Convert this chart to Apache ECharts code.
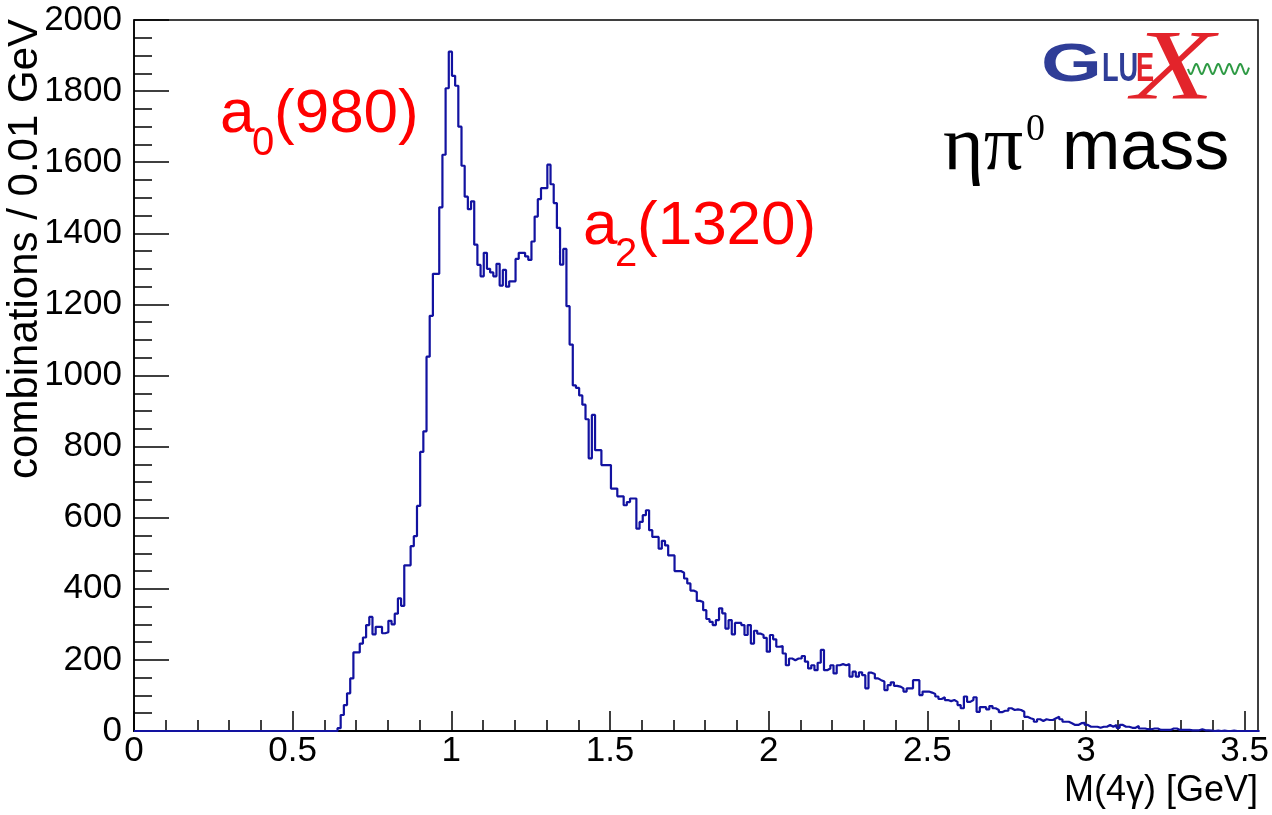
<!DOCTYPE html>
<html><head><meta charset="utf-8">
<script src="https://cdn.jsdelivr.net/npm/echarts@6/dist/echarts.min.js"></script>
<style>html,body{margin:0;padding:0;background:#fff}#c{width:1272px;height:815px}</style>
</head><body><div id="c"></div>
<script>
// ---- data: counts per 0.01 GeV bin, M(4gamma) ----
const binWidth = 0.01;
const xMax = 3.535;
const counts_000_050 = [0,0,0,0,0,0,0,0,0,0, 0,0,0,0,0,0,0,0,0,0, 0,0,0,0,0,0,0,0,0,0, 0,0,0,0,0,0,0,0,0,0, 0,0,0,0,0,0,0,0,0,0];
const counts_050_100 = [0,0,0,0,0,0,0,0,0,0, 0,0,0,0,8,45,73,106,148,221,
  221,246,263,298,321,272,293,293,275,278, 310,300,330,373,352,466,466,520,548,633,
  785,843,1053,1168,1286,1286,1473,1621,1808,1911];
const counts_100_150 = [1843,1815,1700,1590,1503,1468,1490,1368,1311,1279,
  1345,1300,1290,1279,1314,1253,1297,1250,1265,1265,
  1328,1345,1345,1335,1325,1377,1447,1496,1527,1527,
  1593,1538,1485,1415,1312,1356,1195,1087,972,965,
  944,918,877,767,889,790,790,748,748,748];
const counts_150_200 = [682,682,660,660,635,644,654,654,569,588,
  607,621,565,546,546,513,535,522,494,494,
  450,450,445,429,415,395,391,366,363,340,
  315,307,298,312,345,331,288,312,272,304,
  304,298,270,298,246,282,274,270,262,223];
const counts_200_250 = [270,258,237,239,218,185,204,199,204,204,
  211,195,176,185,171,192,228,171,176,185,
  162,185,188,185,188,153,167,153,165,157,
  120,164,160,148,143,139,115,129,137,127,
  125,120,111,120,120,143,143,101,111,111];
const counts_250_300 = [108,104,97,90,95,87,84,87,82,73,
  64,97,82,87,95,54,67,67,61,70,
  64,59,53,57,57,64,59,61,59,54,
  40,36,33,26,33,28,33,31,31,36,
  40,33,26,26,22,17,17,22,23,17];
const counts_300_354 = [12,12,12,9,12,12,17,12,17,9,
  17,12,12,9,9,14,7,7,5,5,
  7,7,3,3,3,3,7,7,3,3,
  3,3,2,2,2,5,2,2,1,0,
  1,0,1,0,0,1,0,0,0,0,
  0,0,0,0];
const yTicks = [0,200,400,600,800,1000,1200,1400,1600,1800,2000];
const xTicks = [0,0.5,1,1.5,2,2.5,3,3.5];

const counts = [].concat(counts_000_050, counts_050_100, counts_100_150, counts_150_200,
  counts_200_250, counts_250_300, counts_300_354);
const points = counts.map((v, i) => [Math.round(i * binWidth * 1000) / 1000, v]);
points.push([Math.round(counts.length * binWidth * 1000) / 1000, counts[counts.length - 1]]);

const FONT = 'Liberation Sans';
const chart = echarts.init(document.getElementById('c'));

// wavy gluon line for the logo (decoration)
const wave = [];
for (let x = 1188; x <= 1249; x += 0.5) {
  wave.push([x, 69 + 5 * Math.sin((x - 1188) / 11 * 2 * Math.PI)]);
}

chart.setOption({
  animation: false,
  backgroundColor: '#fff',
  grid: [
    {left: 134, right: 14, top: 20, bottom: 84, show: true, borderColor: '#000', borderWidth: 1.5},
    {left: 134, right: 25, top: 20, bottom: 84, show: false}
  ],
  xAxis: [
    {gridIndex: 0, type: 'value', min: 0, max: xMax,
     axisLine: {show: true, onZero: false, lineStyle: {color: '#000', width: 2}},
     axisTick: {show: false}, axisLabel: {show: false}, splitLine: {show: false}},
    {gridIndex: 1, type: 'value', min: xTicks[0], max: xTicks[xTicks.length - 1], interval: 0.5,
     axisLine: {show: false},
     axisTick: {show: true, inside: true, length: 20, lineStyle: {color: '#000', width: 1.5}},
     minorTick: {show: true, splitNumber: 5, length: 11, lineStyle: {color: '#000', width: 1.5}},
     axisLabel: {show: true, margin: 3, color: '#000', fontFamily: FONT, fontSize: 35,
                 formatter: v => String(v)},
     splitLine: {show: false}}
  ],
  yAxis: [
    {gridIndex: 0, type: 'value', min: yTicks[0], max: yTicks[yTicks.length - 1], interval: 200,
     axisLine: {show: true, onZero: false, lineStyle: {color: '#000', width: 1.5}},
     axisTick: {show: true, inside: true, length: 35, lineStyle: {color: '#000', width: 1.5}},
     minorTick: {show: true, splitNumber: 4, length: 18, lineStyle: {color: '#000', width: 1.5}},
     axisLabel: {show: true, margin: 12, color: '#000', fontFamily: FONT, fontSize: 35,
                 formatter: v => String(v)},
     splitLine: {show: false}},
    {gridIndex: 1, type: 'value', min: 0, max: 2000, show: false}
  ],
  series: [{
    type: 'line', xAxisIndex: 0, yAxisIndex: 0, data: points, step: 'end',
    symbol: 'none', clip: true,
    lineStyle: {color: '#1212a0', width: 2.2}
  }],
  graphic: [
    {type: 'text', x: 25, y: 19, rotation: Math.PI / 2,
     style: {text: 'combinations / 0.01 GeV', font: '42px "Liberation Sans"', fill: '#000', align: 'right', verticalAlign: 'middle'}},
    {type: 'text', x: 1258, y: 791,
     style: {text: 'M(4γ) [GeV]', font: '36px "Liberation Sans"', fill: '#000', align: 'right', verticalAlign: 'middle'}},
    // a0(980)
    {type: 'text', x: 220, y: 115, style: {text: 'a', font: '62px "Liberation Sans"', fill: '#ff0000', align: 'left', verticalAlign: 'middle'}},
    {type: 'text', x: 252, y: 144, style: {text: '0', font: '40px "Liberation Sans"', fill: '#ff0000', align: 'left', verticalAlign: 'middle'}},
    {type: 'text', x: 274, y: 115, style: {text: '(980)', font: '62px "Liberation Sans"', fill: '#ff0000', align: 'left', verticalAlign: 'middle'}},
    // a2(1320)
    {type: 'text', x: 583, y: 227, style: {text: 'a', font: '62px "Liberation Sans"', fill: '#ff0000', align: 'left', verticalAlign: 'middle'}},
    {type: 'text', x: 615, y: 255, style: {text: '2', font: '40px "Liberation Sans"', fill: '#ff0000', align: 'left', verticalAlign: 'middle'}},
    {type: 'text', x: 637, y: 227, style: {text: '(1320)', font: '62px "Liberation Sans"', fill: '#ff0000', align: 'left', verticalAlign: 'middle'}},
    // eta pi0 mass
    {type: 'text', x: 943, y: 149, style: {text: 'ηπ', font: '78px "Liberation Serif"', fill: '#000', align: 'left', verticalAlign: 'middle'}},
    {type: 'text', x: 1026, y: 130, style: {text: '0', font: '38px "Liberation Serif"', fill: '#000', align: 'left', verticalAlign: 'middle'}},
    {type: 'text', x: 1062, y: 150, style: {text: 'mass', font: '70px "Liberation Sans"', fill: '#000', align: 'left', verticalAlign: 'middle'}},
    // GlueX logo
    {type: 'text', x: 1041, y: 66, scaleX: 1.45, style: {text: 'G', font: 'bold 54px "Liberation Sans"', fill: '#2f3d97', align: 'left', verticalAlign: 'middle'}},
    {type: 'text', x: 1102, y: 70, scaleX: 0.68, style: {text: 'LU', font: 'bold 40px "Liberation Sans"', fill: '#2f3d97', align: 'left', verticalAlign: 'middle'}},
    {type: 'text', x: 1136, y: 70, scaleX: 0.68, style: {text: 'E', font: 'bold 40px "Liberation Sans"', fill: '#e3242b', align: 'left', verticalAlign: 'middle'}},
    {type: 'text', x: 1132, y: 72, scaleX: 1.35, style: {text: 'X', font: 'italic 100px "Liberation Serif"', fill: '#e3242b', align: 'left', verticalAlign: 'middle'}},
    {type: 'polyline', shape: {points: wave}, style: {stroke: '#2e9a44', lineWidth: 2, fill: null}}
  ]
});
</script>
</body></html>
